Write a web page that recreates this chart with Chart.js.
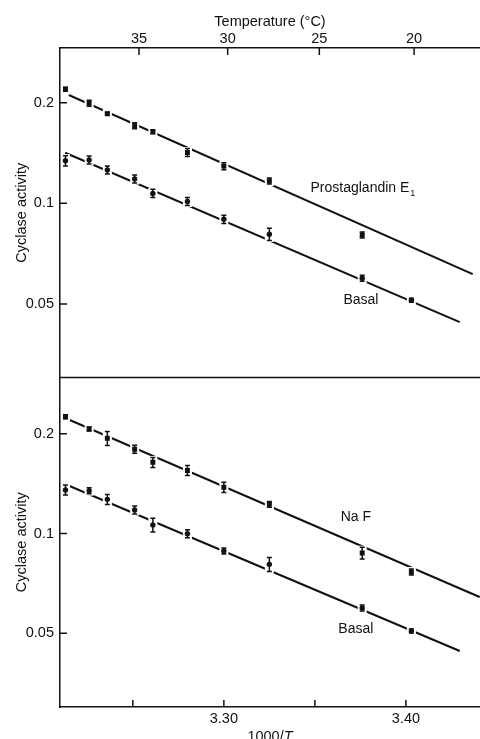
<!DOCTYPE html>
<html>
<head>
<meta charset="utf-8">
<script src="https://cdn.jsdelivr.net/npm/chart.js@4.4.1/dist/chart.umd.min.js"></script>
<style>
    html, body { margin: 0; padding: 0; background: #fff; }
</style>
</head>
<body>
<canvas id="chart" width="480" height="739"></canvas>
<script>
// 1000/T for every measurement (same temperatures in both panels)
const invT = [3.213, 3.226, 3.236, 3.251, 3.261, 3.280, 3.300, 3.325, 3.376, 3.403];

// Upper panel: prostaglandin E1 and basal
const pgeY = [0.2194, 0.1992, 0.1854, 0.1706, 0.1638, 0.1419, 0.1292, 0.1166, 0.0804];
const pgeErr = [0.0030, 0.0041, 0.0019, 0.0035, 0.0023, 0.0039, 0.0031, 0.0024, 0.0017];
const basalTopY = [0.1341, 0.1348, 0.1258, 0.1183, 0.1071, 0.1013, 0.0896, 0.0808, 0.0597, 0.0513];
const basalTopErr = [0.0047, 0.0037, 0.0035, 0.0033, 0.0030, 0.0028, 0.0025, 0.0034, 0.0012, 0.0007];

// Lower panel: NaF and basal
const nafY = [0.2252, 0.2068, 0.1938, 0.1796, 0.1640, 0.1550, 0.1379, 0.1225, 0.0873, 0.0765];
const nafErr = [0.0031, 0.0029, 0.0094, 0.0050, 0.0057, 0.0054, 0.0048, 0.0025, 0.0036, 0.0016];
const basalBotY = [0.1353, 0.1347, 0.1268, 0.1178, 0.1061, 0.0999, 0.0886, 0.0807, 0.0596, 0.0508];
const basalBotErr = [0.0047, 0.0028, 0.0044, 0.0033, 0.0051, 0.0028, 0.0018, 0.0039, 0.0012, 0.0007];

// Fitted lines (end points)
const pgeFitX = [3.2148, 3.4367];
const pgeFitY = [0.2109, 0.0614];
const basalTopFitX = [3.2128, 3.4296];
const basalTopFitY = [0.1417, 0.0441];
const nafFitX = [3.2131, 3.4405];
const nafFitY = [0.2228, 0.0643];
const basalBotFitX = [3.2139, 3.4296];
const basalBotFitY = [0.1401, 0.0442];

// Axes
const xTicks = [3.25, 3.30, 3.35, 3.40];
const xTickLabels = ['', '3.30', '', '3.40'];
const tempTicks = [35, 30, 25, 20];
const yTicks = [0.05, 0.1, 0.2];

const ink = '#111';
const family = '"Liberation Sans", Arial, Helvetica, sans-serif';
const font = { family: family, size: 14.5 };

function pts(ys) { return ys.map((y, i) => ({ x: invT[i], y: y })); }
function seg(xs, ys) { return xs.map((x, i) => ({ x: x, y: ys[i] })); }

function fitLine(xs, ys, axis) {
    return {
        type: 'line', data: seg(xs, ys), yAxisID: axis, order: 2,
        borderColor: ink, borderWidth: 2, pointRadius: 0, fill: false,
    };
}
function markers(ys, errs, axis, style) {
    return {
        type: 'scatter', data: pts(ys), errors: errs, yAxisID: axis, order: 1,
        pointStyle: style, pointRadius: style === 'rect' ? 3.5 : 2.7,
        backgroundColor: ink, borderWidth: 0,
    };
}

// white gap in the fitted line round each marker, then the error bar
const errorBars = {
    id: 'errorBars',
    beforeDatasetDraw(chart, args) {
        const ds = chart.data.datasets[args.index];
        if (!ds.errors) return;
        const ctx = chart.ctx;
        const area = chart.chartArea;
        const yScale = chart.scales[ds.yAxisID];
        ctx.save();
        ctx.beginPath();
        ctx.rect(area.left + 1, area.top + 1, area.right - area.left - 1, area.bottom - area.top - 2);
        ctx.clip();
        args.meta.data.forEach((pt, i) => {
            const v = ds.data[i].y;
            const yHi = yScale.getPixelForValue(v + ds.errors[i]);
            const yLo = yScale.getPixelForValue(v - ds.errors[i]);
            const top = Math.min(yHi, pt.y - 3.5) - 1.5;
            const bot = Math.max(yLo, pt.y + 3.5) + 1.5;
            ctx.fillStyle = '#fff';
            ctx.fillRect(pt.x - 4.5, top, 9, bot - top);
            ctx.strokeStyle = ink;
            ctx.lineWidth = 1.5;
            ctx.beginPath();
            ctx.moveTo(pt.x, yHi); ctx.lineTo(pt.x, yLo);
            ctx.moveTo(pt.x - 2.5, yHi); ctx.lineTo(pt.x + 2.5, yHi);
            ctx.moveTo(pt.x - 2.5, yLo); ctx.lineTo(pt.x + 2.5, yLo);
            ctx.stroke();
        });
        ctx.restore();
    }
};

// curve names inside the panels
const notes = [
    { text: 'Prostaglandin E', sub: '1', x: 3.3764, y: 0.1111, axis: 'yTop' },
    { text: 'Basal', x: 3.3753, y: 0.0515, axis: 'yTop' },
    { text: 'Na F', x: 3.3725, y: 0.1122, axis: 'yBot' },
    { text: 'Basal', x: 3.3725, y: 0.0513, axis: 'yBot' },
];

// inward tick marks, panel divider, curve names, bottom axis title
const frame = {
    id: 'frame',
    afterDraw(chart) {
        const { ctx, chartArea: a, scales } = chart;
        ctx.save();
        ctx.strokeStyle = ink;
        ctx.lineWidth = 1.5;
        ctx.beginPath();
        scales.x.ticks.forEach(t => {
            const px = scales.x.getPixelForValue(t.value);
            ctx.moveTo(px, a.bottom); ctx.lineTo(px, a.bottom - 7);
        });
        scales.x2.ticks.forEach(t => {
            const px = scales.x2.getPixelForValue(t.value);
            ctx.moveTo(px, a.top); ctx.lineTo(px, a.top + 7);
        });
        ['yTop', 'yBot'].forEach(id => {
            scales[id].ticks.forEach(t => {
                const py = scales[id].getPixelForValue(t.value);
                ctx.moveTo(a.left, py); ctx.lineTo(a.left + 7, py);
            });
        });
        ctx.moveTo(a.left, scales.yTop.bottom);
        ctx.lineTo(a.right, scales.yTop.bottom);
        ctx.stroke();

        ctx.fillStyle = ink;
        ctx.textBaseline = 'middle';
        ctx.textAlign = 'left';
        notes.forEach(n => {
            const px = scales.x.getPixelForValue(n.x);
            const py = scales[n.axis].getPixelForValue(n.y);
            ctx.font = '14px ' + family;
            const w = ctx.measureText(n.text).width;
            let ws = 0;
            if (n.sub) {
                ctx.font = '9px ' + family;
                ws = ctx.measureText(n.sub).width + 1;
            }
            const x0 = px - (w + ws) / 2;
            ctx.font = '14px ' + family;
            ctx.fillText(n.text, x0, py);
            if (n.sub) {
                ctx.font = '9px ' + family;
                ctx.fillText(n.sub, x0 + w + 1, py + 5);
            }
        });

        // 1000/T with italic T
        ctx.textBaseline = 'alphabetic';
        ctx.font = '14.5px ' + family;
        const part1 = '1000/';
        const w1 = ctx.measureText(part1).width;
        ctx.font = 'italic 14.5px ' + family;
        const w2 = ctx.measureText('T').width;
        const cx = (scales.x.left + scales.x.right) / 2;
        const x0 = cx - (w1 + w2) / 2;
        ctx.font = '14.5px ' + family;
        ctx.fillText(part1, x0, 741);
        ctx.font = 'italic 14.5px ' + family;
        ctx.fillText('T', x0 + w1, 741);
        ctx.restore();
    }
};

function logAxis(min, max, weight) {
    return {
        type: 'logarithmic', position: 'left', stack: 'panels', stackWeight: 1, weight: weight,
        min: min, max: max, bounds: 'data',
        grid: { display: false, drawTicks: false },
        border: { display: true, color: ink, width: 1.5 },
        afterBuildTicks: s => { s.ticks = yTicks.map(v => ({ value: v })); },
        afterFit: s => { s.width = 60; s.paddingTop = 0; s.paddingBottom = 0; },
        ticks: { font: font, color: ink, padding: 6, autoSkip: false, callback: v => String(v) },
        title: { display: true, text: 'Cyclase activity', font: font, color: ink, padding: { top: 13, bottom: 0 } },
    };
}

new Chart(document.getElementById('chart').getContext('2d'), {
    data: {
        datasets: [
            fitLine(pgeFitX, pgeFitY, 'yTop'),
            fitLine(basalTopFitX, basalTopFitY, 'yTop'),
            fitLine(nafFitX, nafFitY, 'yBot'),
            fitLine(basalBotFitX, basalBotFitY, 'yBot'),
            markers(pgeY, pgeErr, 'yTop', 'rect'),
            markers(basalTopY, basalTopErr, 'yTop', 'circle'),
            markers(nafY, nafErr, 'yBot', 'rect'),
            markers(basalBotY, basalBotErr, 'yBot', 'circle'),
        ],
    },
    options: {
        responsive: false,
        animation: false,
        layout: { padding: 0, autoPadding: false },
        plugins: { legend: { display: false }, tooltip: { enabled: false } },
        scales: {
            x: {
                type: 'linear', position: 'bottom', min: 3.21, max: 3.4407, bounds: 'data',
                grid: { display: false, drawTicks: false },
                border: { display: true, color: ink, width: 1.5 },
                afterBuildTicks: s => { s.ticks = xTicks.map(v => ({ value: v })); },
                afterFit: s => { s.height = 32; s.paddingLeft = 0; s.paddingRight = 0; },
                ticks: { font: font, color: ink, padding: 3, autoSkip: false, maxRotation: 0,
                         callback: (v, i) => xTickLabels[i] },
            },
            x2: {
                type: 'linear', position: 'top', min: 3.1975, max: 3.451, bounds: 'data',
                grid: { display: false, drawTicks: false },
                border: { display: true, color: ink, width: 1.5 },
                afterBuildTicks: s => { s.ticks = tempTicks.map(c => ({ value: 1000 / (273.15 + c) })); },
                afterFit: s => { s.height = 48; s.paddingLeft = 0; s.paddingRight = 0; },
                ticks: { font: font, color: ink, padding: 0, autoSkip: false, maxRotation: 0,
                         callback: (v, i) => String(tempTicks[i]) },
                title: { display: true, text: 'Temperature (°C)', font: font, color: ink, padding: { top: 13, bottom: 0 } },
            },
            yTop: logAxis(0.03012, 0.2916, 1),
            yBot: logAxis(0.02994, 0.2958, 0),
        },
    },
    plugins: [errorBars, frame],
});
</script>
</body>
</html>
